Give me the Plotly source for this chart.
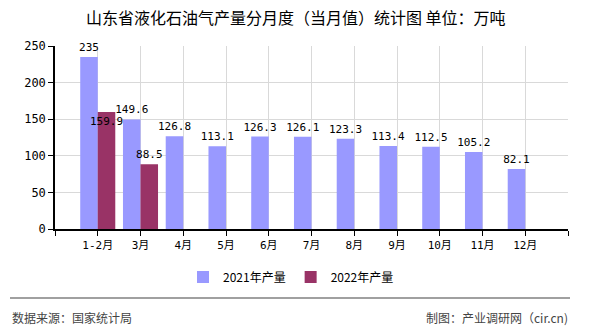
import plotly.graph_objects as go

categories = ["1-2月", "3月", "4月", "5月", "6月", "7月", "8月", "9月", "10月", "11月", "12月"]
values_2021 = [235, 149.6, 126.8, 113.1, 126.3, 126.1, 123.3, 113.4, 112.5, 105.2, 82.1]
values_2022 = [159.9, 88.5, None, None, None, None, None, None, None, None, None]
series_names = ["2021年产量", "2022年产量"]
y_ticks = [0, 50, 100, 150, 200, 250]

W, H = 590, 330
L, R, T, B = 55, 22, 46, 101
plot_h = H - T - B
plot_w = W - L - R


def px_x(x):
    return (x - L) / plot_w


def px_y(y):
    return (H - B - y) / plot_h


label_font = dict(family="DejaVu Sans Mono, Noto Sans CJK SC", size=11, color="#000000")
xs = list(range(len(categories)))

fig = go.Figure()
fig.add_trace(go.Bar(
    x=xs, y=values_2021, name=series_names[0],
    marker=dict(color="#9999ff", line=dict(width=0)),
    text=[f"{v:g}" for v in values_2021], textposition="outside",
    textfont=label_font, cliponaxis=False, constraintext="none", textangle=0,
))
fig.add_trace(go.Bar(
    x=xs, y=values_2022, name=series_names[1],
    marker=dict(color="#993366", line=dict(width=0)),
    text=[("" if v is None else f"{v:g}") for v in values_2022],
    textposition=["inside"] + ["outside"] * (len(xs) - 1),
    insidetextanchor="end",
    insidetextfont=label_font, outsidetextfont=label_font,
    textangle=0, cliponaxis=False, constraintext="none",
))

fig.update_layout(
    width=W, height=H,
    margin=dict(l=L, r=R, t=T, b=B),
    paper_bgcolor="#ffffff", plot_bgcolor="#ffffff",
    barmode="group", bargap=0.18, bargroupgap=0,
    showlegend=True,
    legend=dict(orientation="h", x=px_x(291), xanchor="center", y=px_y(277), yanchor="middle",
                font=dict(family="Noto Sans CJK SC", size=12, color="#000000"),
                itemwidth=30, tracegroupgap=0, bgcolor="rgba(0,0,0,0)"),
    xaxis=dict(
        range=[-1, 11],
        tickvals=[-1] + xs + [11],
        ticktext=[""] + categories + [""],
        showgrid=True, gridcolor="#d9d9d9", gridwidth=1,
        showline=True, linecolor="#000000", linewidth=1.5,
        ticks="outside", ticklen=5, tickcolor="#000000",
        tickfont=dict(family="DejaVu Sans Mono, Noto Sans CJK SC", size=11, color="#000000"),
        zeroline=False,
    ),
    yaxis=dict(
        range=[0, 250], tickvals=y_ticks,
        showgrid=True, gridcolor="#d9d9d9", gridwidth=1,
        showline=True, linecolor="#000000", linewidth=1.5,
        ticks="outside", ticklen=5, tickcolor="#000000",
        tickfont=dict(family="DejaVu Sans Mono", size=12, color="#000000"),
        zeroline=False,
    ),
    font=dict(family="Noto Sans CJK SC"),
)

fig.add_annotation(
    text="山东省液化石油气产量分月度（当月值）统计图 单位：万吨",
    xref="paper", yref="paper", x=px_x(296), y=px_y(17),
    xanchor="center", yanchor="middle", showarrow=False,
    font=dict(family="Noto Sans CJK SC", size=16, color="#000000"),
)
fig.add_shape(
    type="line", xref="paper", yref="paper",
    x0=px_x(10), x1=px_x(570), y0=px_y(298), y1=px_y(298),
    line=dict(color="#808080", width=1.5),
)
fig.add_annotation(
    text="数据来源：国家统计局",
    xref="paper", yref="paper", x=px_x(10), y=px_y(317),
    xanchor="left", yanchor="middle", showarrow=False,
    font=dict(family="Noto Sans CJK SC", size=12, color="#444444"),
)
fig.add_annotation(
    text="制图：产业调研网（cir.cn)",
    xref="paper", yref="paper", x=px_x(570), y=px_y(317),
    xanchor="right", yanchor="middle", showarrow=False,
    font=dict(family="Noto Sans CJK SC", size=12, color="#444444"),
)

fig.write_html("out.html")
